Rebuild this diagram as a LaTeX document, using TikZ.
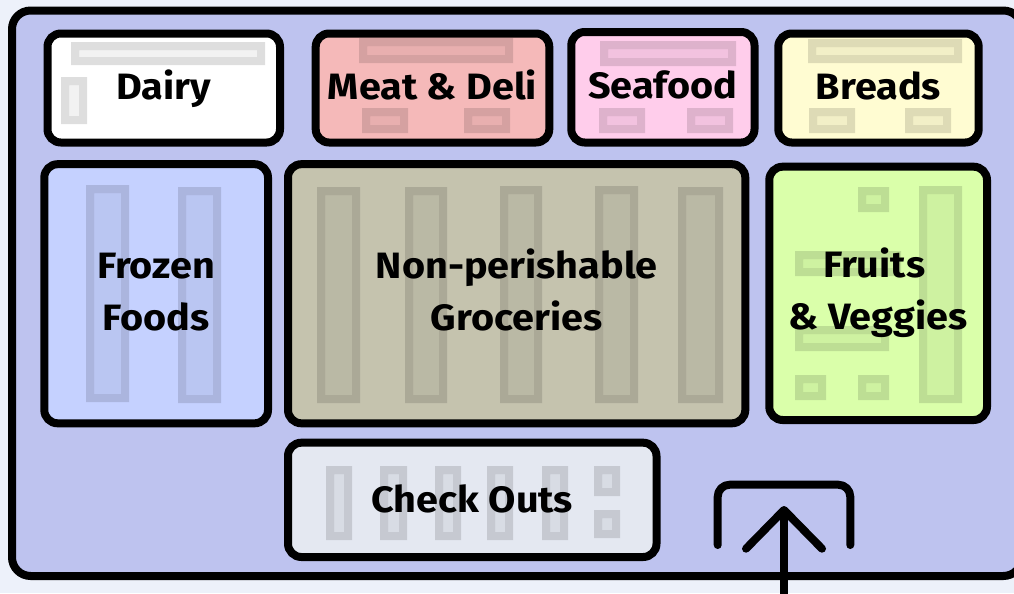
\documentclass[tikz,border=0pt]{standalone}
\usepackage{fontspec}
\setmainfont{Fira Sans}[FakeStretch=1.08]
\definecolor{pagebg}{HTML}{EDF1FA}
\definecolor{storebg}{HTML}{BEC3EF}
\definecolor{dairyc}{HTML}{FFFFFF}
\definecolor{meatc}{HTML}{F5B9B9}
\definecolor{seafoodc}{HTML}{FFCDEB}
\definecolor{breadc}{HTML}{FFFCD2}
\definecolor{frozenc}{HTML}{C5D1FF}
\definecolor{groceryc}{HTML}{C5C3AE}
\definecolor{fruitc}{HTML}{DAFFAA}
\definecolor{checkc}{HTML}{E4E8F1}
\tikzset{
  roombox/.style={draw=black,line width=6pt,rounded corners=10pt,inner sep=0pt,outer sep=0pt,
    align=center,font=\fontsize{27.5pt}{39pt}\selectfont\bfseries,text=black},
  walk/.style={draw=black,line width=6pt,line cap=round,line join=round},
}
\newcommand{\tstrut}[1]{\rule[-#1pt]{0pt}{39pt}}
\newcommand{\roomnode}[7]{%
  \pgfmathsetmacro{\rw}{(#4-#2)*0.75}\pgfmathsetmacro{\rh}{(#5-#3)*0.75}%
  \node[roombox,fill=#6,minimum width=\rw pt,minimum height=\rh pt] (#1) at ({(#2+#4)/2},{(#3+#5)/2}) {#7};}
\newcommand{\shelf}[4]{%
  \fill[black,opacity=.13,even odd rule] (#1,#2) rectangle (#3,#4) ({#1+8},{#2+8}) rectangle ({#3-8},{#4-8});
  \fill[black,opacity=.05] ({#1+8},{#2+8}) rectangle ({#3-8},{#4-8});}
\begin{document}
\begin{tikzpicture}[x=0.75pt,y=-0.75pt]
\clip (0,0) rectangle (1014,593);
\fill[pagebg] (0,0) rectangle (1014,593);
\draw[black,line width=6pt,fill=storebg,rounded corners=14pt] (12,10.5) rectangle (1022,576);
% rooms
\roomnode{dairy}{47.5}{33.5}{280}{142.5}{dairyc}{\tstrut{11.25}Dairy}
\roomnode{meat}{315.7}{33.5}{549.3}{142.5}{meatc}{\tstrut{11.25}Meat \& Deli}
\roomnode{seafood}{571.3}{32}{754.5}{142.5}{seafoodc}{\tstrut{10.7}Seafood}
\roomnode{breads}{778.3}{33.5}{978.7}{142.5}{breadc}{\tstrut{11.25}Breads}
\roomnode{frozen}{44.3}{164.2}{268}{423.3}{frozenc}{\strut Frozen\\\strut Foods}
\roomnode{grocery}{288}{164.2}{745.3}{423.3}{groceryc}{\strut Non-perishable\\\strut Groceries}
\roomnode{fruits}{769.3}{166.7}{987}{420}{fruitc}{\strut\hspace*{-6pt}Fruits\\\strut\& Veggies}
\roomnode{checkout}{288}{442.7}{656.5}{557}{checkc}{\tstrut{9.8}Check Outs}
% dairy shelves
\shelf{71}{42}{265}{65}
\shelf{61}{77}{87}{124}
% meat shelves
\shelf{359}{38}{513}{63}
\shelf{362}{108}{408}{133}
\shelf{464}{108}{510}{133}
% seafood shelves
\shelf{600}{41}{736}{66}
\shelf{599}{108}{645}{133}
\shelf{687}{108}{733}{133}
% bread shelves
\shelf{808}{39}{962}{63}
\shelf{809}{108}{855}{133}
\shelf{905}{108}{951}{133}
% frozen shelves
\shelf{86}{185}{129}{402}
\shelf{178}{187}{221}{403}
% grocery shelves
\shelf{317}{187}{360}{403}
\shelf{405}{187}{447}{403}
\shelf{500}{186}{542}{403}
\shelf{595}{186}{638}{403}
\shelf{678}{187}{723}{403}
% fruit shelves
\shelf{919}{186}{962}{403}
\shelf{858}{187}{889}{212}
\shelf{795}{251}{901}{276}
\shelf{795}{326}{889}{351}
\shelf{795}{375}{826}{400}
\shelf{858}{375}{889}{400}
% checkout lanes
\shelf{326}{466}{352}{540}
\shelf{380}{466}{407}{540}
\shelf{435}{466}{461}{540}
\shelf{487}{466}{513}{540}
\shelf{542}{466}{568}{540}
\shelf{594}{466}{620}{496}
\shelf{594}{510}{620}{538}
% entrance
\coordinate (doorL) at (717.7,545);
\coordinate (doorTL) at (717.7,484.7);
\coordinate (doorTR) at (850.3,484.7);
\coordinate (doorR) at (850.3,545);
\coordinate (tip) at (784,510);
\coordinate (barbL) at (746,548.7);
\coordinate (barbR) at (822,548.7);
\coordinate (tail) at (784,600);
\draw[walk,rounded corners=9pt] (doorL) -- (doorTL) -- (doorTR) -- (doorR);
\draw[walk] (barbL) -- (tip) -- (barbR);
\draw[walk,line cap=butt] (tail) -- (tip);
\end{tikzpicture}
\end{document}
